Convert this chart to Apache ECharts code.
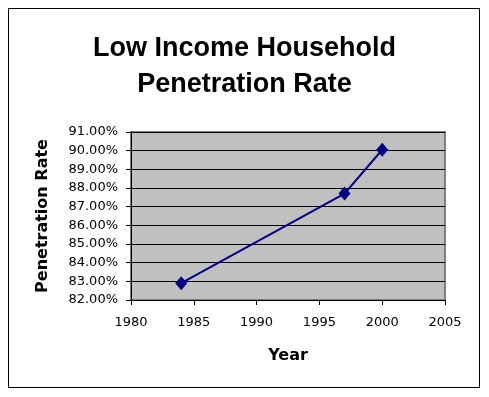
<!DOCTYPE html>
<html>
<head>
<meta charset="utf-8">
<script src="https://cdn.jsdelivr.net/npm/echarts@6/dist/echarts.min.js"></script>
<style>
html,body{margin:0;padding:0;background:#fff;}
#c{width:489px;height:397px;}
</style>
</head>
<body>
<div id="c"></div>
<script>
var titleText = "Low Income Household\nPenetration Rate";
var xAxisTitle = "Year";
var yAxisTitle = "Penetration Rate";
var years = [1984, 1997, 2000];
var rates = [82.9, 87.7, 90.05];
var xMin = 1980, xMax = 2005, xStep = 5;
var yMin = 82, yMax = 91, yStep = 1;

var chart = echarts.init(document.getElementById('c'), null, {renderer: 'canvas'});
var points = years.map(function (y, i) { return [y, rates[i]]; });

chart.setOption({
  animation: false,
  backgroundColor: '#ffffff',
  title: {
    text: titleText,
    left: 'center',
    top: 26,
    textStyle: {
      fontFamily: 'Liberation Sans, Arial, sans-serif',
      fontWeight: 'bold',
      fontSize: 27,
      lineHeight: 36,
      color: '#000'
    }
  },
  graphic: [{
    type: 'rect',
    shape: {x: 8.5, y: 8.5, width: 471, height: 379},
    style: {fill: 'none', stroke: '#000', lineWidth: 1},
    silent: true
  }],
  grid: {
    left: 131, top: 132, width: 314, height: 168,
    show: true,
    backgroundColor: '#C0C0C0',
    borderColor: '#808080',
    borderWidth: 2
  },
  xAxis: {
    type: 'value',
    min: xMin, max: xMax, interval: xStep,
    name: xAxisTitle,
    nameLocation: 'middle',
    nameGap: 48,
    nameTextStyle: {fontFamily: 'DejaVu Sans', fontWeight: 'bold', fontSize: 16, color: '#000'},
    axisLine: {show: true, onZero: false, lineStyle: {color: '#000', width: 1}},
    axisTick: {show: true, inside: false, length: 5, lineStyle: {color: '#000'}},
    axisLabel: {
      margin: 16, fontFamily: 'DejaVu Sans', fontSize: 13, color: '#000',
      formatter: function (v) { return String(v); }
    },
    splitLine: {show: false}
  },
  yAxis: {
    type: 'value',
    min: yMin, max: yMax, interval: yStep,
    name: yAxisTitle,
    nameLocation: 'middle',
    nameRotate: 90,
    nameGap: 80,
    nameTextStyle: {fontFamily: 'DejaVu Sans', fontWeight: 'bold', fontSize: 16, color: '#000'},
    axisLine: {show: true, onZero: false, lineStyle: {color: '#000', width: 1}},
    axisTick: {show: true, inside: false, length: 5, lineStyle: {color: '#000'}},
    axisLabel: {
      margin: 13, fontFamily: 'DejaVu Sans', fontSize: 13, color: '#000',
      formatter: function (v) { return v.toFixed(2) + '%'; }
    },
    splitLine: {show: true, lineStyle: {color: '#000', width: 1}}
  },
  series: [{
    type: 'line',
    data: points,
    symbol: 'diamond',
    symbolSize: [12, 14],
    itemStyle: {color: '#000080'},
    lineStyle: {color: '#000080', width: 2}
  }]
});
</script>
</body>
</html>
